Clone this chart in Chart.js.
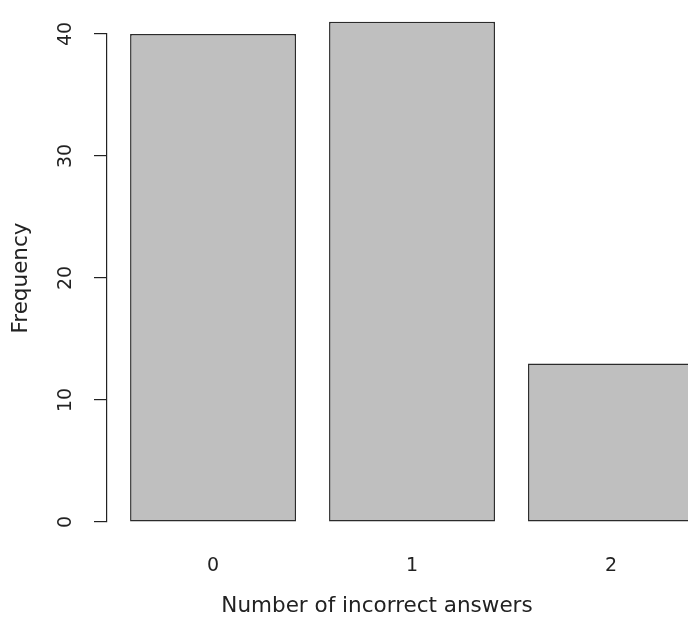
<!DOCTYPE html>
<html>
<head>
<meta charset="utf-8">
<script src="https://cdn.jsdelivr.net/npm/chart.js@4/dist/chart.umd.min.js"></script>
<style>
  html, body { margin: 0; padding: 0; background: #fff; overflow: hidden; }
  canvas { display: block; }
</style>
</head>
<body>
<canvas id="c" width="688" height="619"></canvas>
<script>
// barplot of how many answers each respondent got wrong
const categories = [0, 1, 2];
const frequency = [40, 41, 13];
const yTicks = [0, 10, 20, 30, 40];

const FONT = "'DejaVu Sans', sans-serif";

new Chart(document.getElementById("c"), {
  type: "bar",
  data: {
    datasets: [{
      data: categories.map((c, i) => ({ x: c, y: frequency[i] })),
      backgroundColor: "#bfbfbf",
      borderColor: "#2b2b2b",
      borderWidth: 1.5,
      borderSkipped: false,
      categoryPercentage: 1,
      barPercentage: 0.834,
      clip: false,
    }],
  },
  options: {
    responsive: false,
    animation: false,
    devicePixelRatio: 1,
    layout: { padding: { top: 34, left: 0, right: 41, bottom: 0 } },
    plugins: { legend: { display: false }, tooltip: { enabled: false } },
    scales: {
      x: {
        type: "linear",
        offset: false,
        min: -0.533,
        max: 2.181,
        afterBuildTicks: (s) => { s.ticks = categories.map((c) => ({ value: c })); },
        afterFit: (s) => { s.height = 97; },
        grid: { display: false, drawTicks: false },
        border: { display: false },
        ticks: {
          color: "#222",
          font: { family: FONT, size: 19 },
          padding: 33,
          callback: (v) => String(v),
        },
        title: {
          display: true,
          text: "Number of incorrect answers",
          color: "#222",
          font: { family: FONT, size: 21.5 },
          padding: { top: 0, bottom: 0 },
        },
      },
      y: {
        min: 0,
        max: 40,
        afterBuildTicks: (s) => { s.ticks = yTicks.map((v) => ({ value: v })); },
        afterFit: (s) => { s.width = 107; },
        grid: {
          drawOnChartArea: false,
          drawTicks: true,
          tickLength: 13,
          color: "#222",
          tickColor: "#222",
          lineWidth: 1.2,
        },
        border: { display: true, color: "#222", width: 1.2 },
        ticks: {
          color: "#222",
          font: { family: FONT, size: 19 },
          minRotation: 90,
          maxRotation: 90,
          crossAlign: "center",
          padding: 16,
        },
        title: {
          display: true,
          text: "Frequency",
          color: "#222",
          font: { family: FONT, size: 21.5 },
          padding: { top: 9, bottom: 0 },
        },
      },
    },
  },
});
</script>
</body>
</html>
